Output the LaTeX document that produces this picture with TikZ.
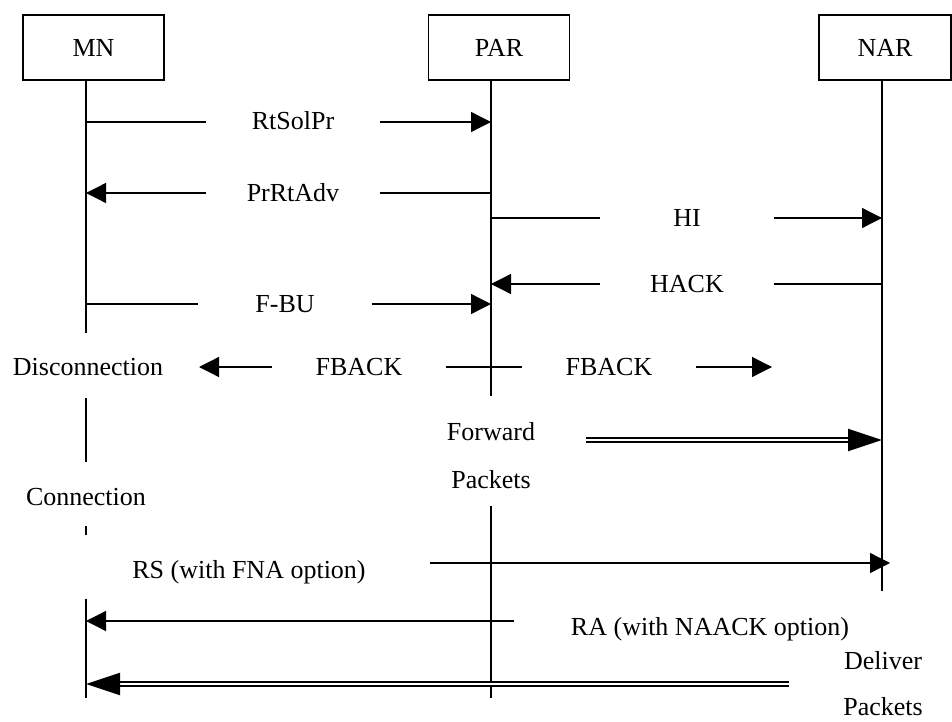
\documentclass[tikz,border=0pt]{standalone}
\usepackage{fontspec}
\setmainfont{Liberation Serif}
\usetikzlibrary{arrows.meta}

\begin{document}
\begin{tikzpicture}[x=1pt,y=-1pt,line width=1.3pt,font=\fontsize{26}{30}\selectfont]
  \tikzset{entity/.style={rectangle, draw, minimum width=141pt,
      minimum height=65pt, inner sep=0pt}}
  \tikzset{gap/.style={minimum width=172pt, inner sep=0pt,
      text height=18pt, text depth=2pt}}
  \tikzset{twoline/.style={align=center, font=\fontsize{26}{48}\selectfont}}
  \tikzset{msg/.style={-{Triangle[length=20pt,width=20pt]}}}
  \tikzset{packets/.style={double, line width=2pt, double distance=2.2pt,
      -{Triangle[length=34pt,width=22pt]}}}
  \useasboundingbox (0,0) rectangle (952,722);
  \node[entity] (mn) at (93.5,47.5) {MN};
  \node[entity] (par) at (499,47.5) {PAR};
  \node[entity, minimum width=132pt] (nar) at (885,47.5) {NAR};
  \coordinate (mnl) at (86,80);
  \coordinate (parl) at (491,80);
  \coordinate (narl) at (882,80);
  % lifelines
  \draw (mnl) -- (86,333);
  \draw (86,398) -- (86,462);
  \draw (86,526) -- (86,535);
  \draw (86,599) -- (86,698);
  \draw (parl) -- (491,396);
  \draw (491,506) -- (491,698);
  \draw (narl) -- (882,591);
  \node[text height=18pt, text depth=2pt] (disc) at (88,367) {Disconnection};
  \node[text height=18pt, text depth=2pt] (conn) at (86,497) {Connection};
  \node[twoline] (fwd) at (491,456) {Forward\\Packets};
  \node[twoline, font=\fontsize{26}{46}\selectfont] (dlv) at (883,684) {Deliver\\Packets};
  % messages
  \node[gap] (rtsolpr) at (293,122) {RtSolPr};
  \draw (mnl |- rtsolpr) -- (rtsolpr.west);
  \draw[msg] (rtsolpr.east) -- (parl |- rtsolpr);
  \node[gap] (prrtadv) at (293,193) {PrRtAdv};
  \draw[msg] (prrtadv.west) -- (mnl |- prrtadv);
  \draw (prrtadv.east) -- (parl |- prrtadv);
  \node[gap] (hi) at (687,218) {HI};
  \draw (parl |- hi) -- (hi.west);
  \draw[msg] (hi.east) -- (narl |- hi);
  \node[gap] (hack) at (687,284) {HACK};
  \draw[msg] (hack.west) -- (parl |- hack);
  \draw (hack.east) -- (narl |- hack);
  \node[gap] (fbu) at (285,304) {F-BU};
  \draw (mnl |- fbu) -- (fbu.west);
  \draw[msg] (fbu.east) -- (parl |- fbu);
  \node[gap] (fback1) at (359,367) {FBACK};
  \node[gap] (fback2) at (609,367) {FBACK};
  \coordinate (fbl) at (199,367);
  \coordinate (fbr) at (772,367);
  \draw[msg] (fback1.west) -- (fbl);
  \draw (fback1.east) -- (fback2.west);
  \draw[msg] (fback2.east) -- (fbr);
  \coordinate (fwdstart) at (586,440);
  \draw[packets] (fwdstart) -- (narl |- fwdstart);
  \node (rs) at (249,572) {RS (with FNA option)};
  \coordinate (rsstart) at (430,563);
  \draw[msg] (rsstart) -- ([xshift=8pt]narl |- rsstart);
  \node (ra) at (710,629) {RA (with NAACK option)};
  \coordinate (rastart) at (514,621);
  \draw[msg] (rastart) -- (mnl |- rastart);
  \coordinate (dlvstart) at (789,684);
  \draw[packets] (dlvstart) -- (mnl |- dlvstart);
\end{tikzpicture}
\end{document}
